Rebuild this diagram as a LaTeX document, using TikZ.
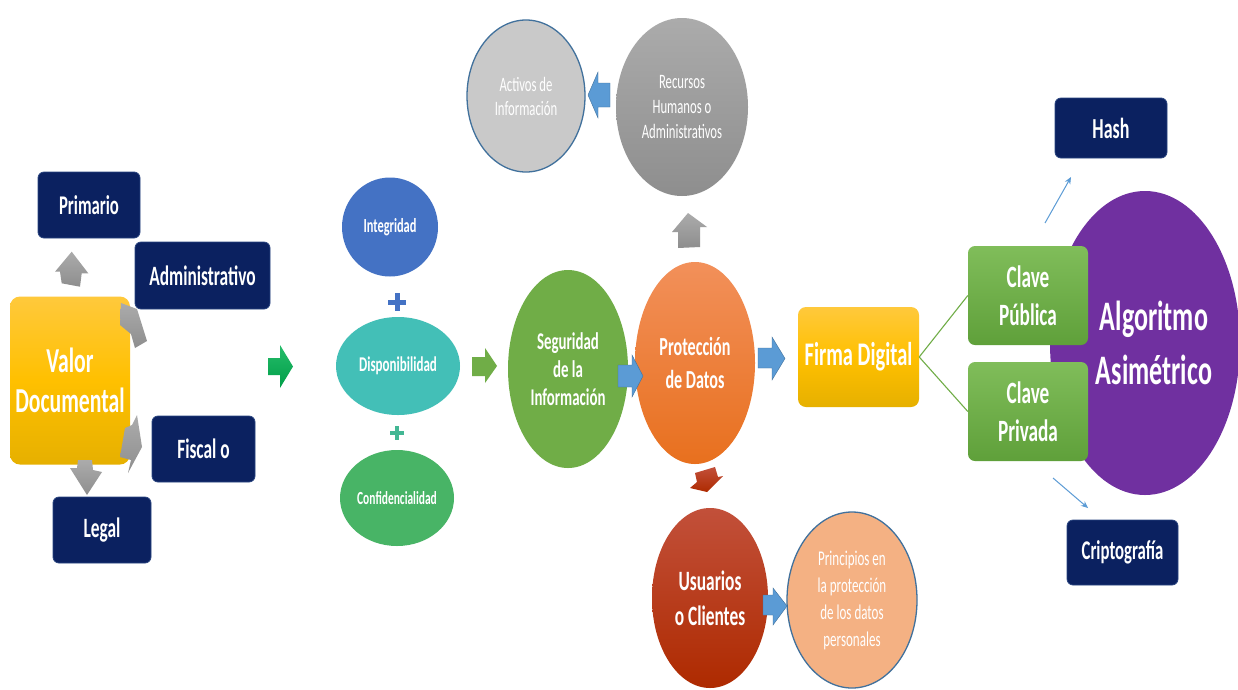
\documentclass[tikz,border=0pt]{standalone}
\usepackage{fontspec}
\setmainfont{Carlito}[FakeStretch=0.62]
\usetikzlibrary{shapes.geometric,arrows.meta}
\newcommand{\fsz}[2]{\fontsize{#1}{#2}\selectfont}
\definecolor{navy}{HTML}{0B2160}
\definecolor{navyline}{HTML}{2A4580}
\definecolor{goldtop}{HTML}{FFC93C}
\definecolor{goldmid}{HTML}{FFC000}
\definecolor{goldbot}{HTML}{E6B000}
\definecolor{integ}{HTML}{4472C4}
\definecolor{dispo}{HTML}{43BFB7}
\definecolor{confi}{HTML}{48B466}
\definecolor{plusg}{HTML}{43B794}
\definecolor{segur}{HTML}{70AD47}
\definecolor{orangetop}{HTML}{F2905A}
\definecolor{orangebot}{HTML}{E8701E}
\definecolor{graytop}{HTML}{ABABAB}
\definecolor{graybot}{HTML}{8E8E8E}
\definecolor{lightgray}{HTML}{C9C9C9}
\definecolor{outblue}{HTML}{41719C}
\definecolor{redtop}{HTML}{C2503A}
\definecolor{redbot}{HTML}{AE2A00}
\definecolor{peach}{HTML}{F4B183}
\definecolor{purple}{HTML}{7030A0}
\definecolor{greentop}{HTML}{80BD5A}
\definecolor{greenbot}{HTML}{5FA03A}
\definecolor{arrowblue}{HTML}{5B9BD5}
\definecolor{arrowgreen}{HTML}{00B050}
\begin{document}
\begin{tikzpicture}[x=1pt,y=-1pt,
  navybox/.style={rectangle, rounded corners=6pt, fill=navy, draw=navyline, line width=0.8pt,
    text=white, font=\fsz{28}{32}\bfseries, inner sep=0pt},
  goldbox/.style={rectangle, rounded corners=8pt, top color=goldtop, bottom color=goldbot, middle color=goldmid,
    text=white, align=center, inner sep=0pt},
  greenbox/.style={rectangle, rounded corners=7pt, top color=greentop, bottom color=greenbot,
    text=white, align=center, inner sep=0pt, font=\fsz{31}{38}\bfseries},
  bubble/.style={ellipse, inner sep=0pt, text=white, align=center},
  garrow/.style={top color=graytop, bottom color=graybot},
  barrow/.style={fill=arrowblue, draw=outblue, line width=0.4pt},
  thinarrow/.style={draw=arrowblue, line width=1pt, -{Stealth[length=7pt,width=6pt]}},
  link/.style={draw=segur, line width=1.1pt},
  plussign/.style={line width=5pt}
]
\fill[white] (0,0) rectangle (1238,689);
\useasboundingbox (0,0) rectangle (1238,689);

% ---------- left cluster ----------
\node[navybox, minimum width=102pt, minimum height=66pt, font=\fsz{27}{30}\bfseries] (prim) at (89,205) {Primario};
\node[navybox, minimum width=135pt, minimum height=67pt] (admin) at (202.5,275.5) {Administrativo};
\node[navybox, minimum width=103pt, minimum height=66pt] (fiscal) at (203.5,449) {Fiscal o};
\node[navybox, minimum width=98pt, minimum height=66pt] (legal) at (102,530) {Legal};
\node[goldbox, rounded corners=10pt, minimum width=120pt, minimum height=168pt, font=\fsz{35}{40}\bfseries] (valor) at (70,380.5) {Valor\\Documental};

\shade[garrow] (71.7,251.7) -- (88.3,273.3) -- (81.7,273.3) -- (80,286.7) -- (61.7,283.3) -- (60,271.7) -- (55,271.7) -- cycle;
\shade[garrow] (121,303) -- (137,309) -- (147,341) -- (135,348) -- (131,334) -- (120,325) -- cycle;
\shade[garrow] (137,415) -- (142,447) -- (128,473) -- (131,460) -- (120,457) -- (125,428) -- (132,425) -- cycle;
\shade[garrow] (78,460) -- (92,460) -- (93,470) -- (102,472) -- (87,495) -- (70,468) -- (77,468) -- cycle;

\shade[top color=arrowgreen!85!white, bottom color=arrowgreen!90!black] (268,358) -- (280,358) -- (280,345) -- (293,366.5) -- (280,388) -- (280,375) -- (268,375) -- cycle;

% ---------- integridad cluster ----------
\node[bubble, fill=integ, minimum width=96pt, minimum height=99pt, font=\fsz{20}{24}\bfseries] (integ) at (390,227) {Integridad};
\node[bubble, fill=dispo, minimum width=124pt, minimum height=98pt, font=\fsz{21}{25}\bfseries] (dispo) at (398,366) {Disponibilidad};
\node[bubble, fill=confi, minimum width=114pt, minimum height=96pt, font=\fsz{18.5}{22}\bfseries] (confi) at (397,498) {Confidencialidad};
\draw[plussign, draw=integ] (388,302) -- (406,302) (397,293) -- (397,311);
\draw[plussign, draw=plusg, line width=4.5pt] (390,433) -- (404,433) (397,426) -- (397,440);

\fill[segur] (472,357) -- (485,357) -- (485,348) -- (497,366) -- (485,383) -- (485,376) -- (472,376) -- cycle;

% ---------- center ----------
\node[bubble, fill=segur, minimum width=120pt, minimum height=198pt, font=\fsz{24}{28}\bfseries] (segur) at (568,369) {Seguridad\\de la\\Información};
\node[bubble, top color=orangetop, bottom color=orangebot, minimum width=120pt, minimum height=202pt, font=\fsz{26}{33}\bfseries] (prote) at (695,363) {Protección\\de Datos};
\fill[barrow] (618,365) -- (632,365) -- (632,355) -- (643,376) -- (632,397) -- (632,387) -- (618,387) -- cycle;
\fill[barrow] (758,348) -- (772,348) -- (772,337) -- (785,358.5) -- (772,380) -- (772,368) -- (758,368) -- cycle;

\node[bubble, top color=graytop, bottom color=graybot, minimum width=132pt, minimum height=178pt, font=\fsz{20.5}{25}] (recur) at (682,107) {Recursos\\Humanos o\\Administrativos};
\node[bubble, fill=lightgray, draw=outblue, line width=1.3pt, minimum width=118pt, minimum height=152pt, font=\fsz{20.5}{24}] (activ) at (526,96) {Activos de\\Información};
\fill[barrow] (610,83) -- (598,83) -- (598,72) -- (588,95) -- (598,118) -- (598,107) -- (610,107) -- cycle;
\shade[garrow] (688,213) -- (707,227) -- (700,227) -- (700,247) -- (678,248) -- (678,232) -- (672,232) -- cycle;

\shade[top color=redtop, bottom color=redbot] (695,473) -- (715,467) -- (718,477) -- (723,476) -- (707,492) -- (690,488) -- (697,482) -- cycle;

\node[bubble, top color=redtop, bottom color=redbot, minimum width=116pt, minimum height=180pt, font=\fsz{28}{35}\bfseries] (usuar) at (710,598) {Usuarios\\o Clientes};
\node[bubble, fill=peach, draw=outblue, line width=1.3pt, minimum width=130pt, minimum height=176pt, font=\fsz{21}{27}] (princ) at (852,600) {Principios en\\la protección\\de los datos\\personales};
\fill[barrow] (763,595) -- (773,595) -- (773,588) -- (787,606) -- (773,625) -- (773,615) -- (763,615) -- cycle;

% ---------- right ----------
\node[goldbox, minimum width=121pt, minimum height=100pt, font=\fsz{33}{38}\bfseries] (firma) at (858.5,357) {Firma Digital};
\node[bubble, fill=purple, minimum width=190pt, minimum height=304pt, font=\fsz{42}{54}\bfseries] (algo) at (1145,343) {\hspace*{18pt}Algoritmo\\\hspace*{18pt}Asimétrico};
\node[greenbox, minimum width=120pt, minimum height=99pt] (pub) at (1028,295.5) {Clave\\Pública};
\node[greenbox, minimum width=120pt, minimum height=99pt] (priv) at (1028,411.5) {Clave\\Privada};
\draw[link] (firma.east) -- (pub.west);
\draw[link] (firma.east) -- (priv.west);

\node[navybox, minimum width=112pt, minimum height=60pt, font=\fsz{29}{33}\bfseries] (hash) at (1111,128) {Hash};
\node[navybox, minimum width=111pt, minimum height=65pt, font=\fsz{27}{31}\bfseries] (cripto) at (1122.5,552.5) {Criptografía};
\coordinate (h0) at (1045,223);
\coordinate (h1) at (1071,177);
\coordinate (c0) at (1053,478);
\coordinate (c1) at (1088,508);
\draw[thinarrow] (h0) -- (h1);
\draw[thinarrow] (c0) -- (c1);
\end{tikzpicture}
\end{document}
